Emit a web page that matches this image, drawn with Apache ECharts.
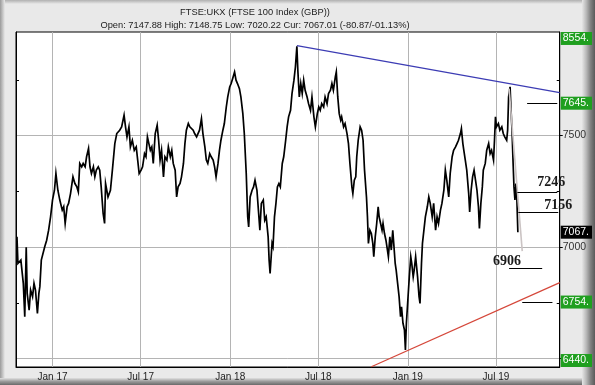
<!DOCTYPE html>
<html><head><meta charset="utf-8">
<script src="https://cdn.jsdelivr.net/npm/echarts@6/dist/echarts.min.js"></script>
<style>html,body{margin:0;padding:0;background:#e9e9e9}#c{width:595px;height:385px}</style>
</head><body><div id="c"></div>
<script>
// ---------- data ----------
const dates = [
'2016-10-20','2016-10-22','2016-10-28','2016-11-02','2016-11-05','2016-11-08','2016-11-10','2016-11-14','2016-11-17','2016-11-21',
'2016-11-24','2016-11-27','2016-12-01','2016-12-04','2016-12-06','2016-12-09','2016-12-13','2016-12-16','2016-12-20','2016-12-24',
'2016-12-28','2017-01-01','2017-01-05','2017-01-08','2017-01-12','2017-01-16','2017-01-21','2017-01-24','2017-01-27','2017-01-31',
'2017-02-03','2017-02-07','2017-02-12','2017-02-16','2017-02-20','2017-02-23','2017-02-26','2017-03-02','2017-03-05','2017-03-09',
'2017-03-12','2017-03-16','2017-03-19','2017-03-22','2017-03-26','2017-03-29','2017-04-01','2017-04-05','2017-04-08','2017-04-11',
'2017-04-15','2017-04-18','2017-04-20','2017-04-25','2017-04-30','2017-05-04','2017-05-09','2017-05-13','2017-05-19','2017-05-23',
'2017-05-28','2017-05-31','2017-06-03','2017-06-07','2017-06-10','2017-06-14','2017-06-18','2017-06-22','2017-06-25','2017-06-28',
'2017-07-02','2017-07-05','2017-07-09','2017-07-12','2017-07-15','2017-07-18','2017-07-21','2017-07-24','2017-07-27','2017-07-31',
'2017-08-04','2017-08-07','2017-08-10','2017-08-13','2017-08-17','2017-08-20','2017-08-24','2017-08-27','2017-08-31','2017-09-03',
'2017-09-06','2017-09-10','2017-09-13','2017-09-16','2017-09-20','2017-09-23','2017-09-27','2017-09-30','2017-10-03','2017-10-07',
'2017-10-10','2017-10-13','2017-10-17','2017-10-20','2017-10-24','2017-10-27','2017-10-30','2017-11-03','2017-11-06','2017-11-10',
'2017-11-13','2017-11-16','2017-11-20','2017-11-23','2017-11-27','2017-11-30','2017-12-03','2017-12-07','2017-12-10','2017-12-13',
'2017-12-17','2017-12-20','2017-12-24','2017-12-27','2017-12-31','2018-01-03','2018-01-06','2018-01-10','2018-01-13','2018-01-16',
'2018-01-20','2018-01-23','2018-01-27','2018-01-30','2018-02-03','2018-02-06','2018-02-08','2018-02-11','2018-02-15','2018-02-18',
'2018-02-21','2018-02-25','2018-02-28','2018-03-03','2018-03-06','2018-03-10','2018-03-13','2018-03-16','2018-03-20','2018-03-22',
'2018-03-24','2018-03-28','2018-03-30','2018-04-02','2018-04-05','2018-04-08','2018-04-11','2018-04-14','2018-04-18','2018-04-21',
'2018-04-25','2018-04-28','2018-05-01','2018-05-05','2018-05-08','2018-05-12','2018-05-15','2018-05-18','2018-05-20','2018-05-23',
'2018-05-26','2018-05-29','2018-06-01','2018-06-04','2018-06-08','2018-06-11','2018-06-15','2018-06-18','2018-06-22','2018-06-25',
'2018-06-29','2018-07-02','2018-07-05','2018-07-08','2018-07-12','2018-07-15','2018-07-19','2018-07-22','2018-07-26','2018-07-29',
'2018-08-01','2018-08-05','2018-08-07','2018-08-10','2018-08-13','2018-08-16','2018-08-18','2018-08-22','2018-08-25','2018-08-29',
'2018-09-01','2018-09-04','2018-09-08','2018-09-10','2018-09-13','2018-09-16','2018-09-18','2018-09-21','2018-09-25','2018-09-28',
'2018-10-01','2018-10-04','2018-10-08','2018-10-10','2018-10-12','2018-10-15','2018-10-18','2018-10-21','2018-10-23','2018-10-26',
'2018-10-29','2018-11-01','2018-11-03','2018-11-06','2018-11-09','2018-11-11','2018-11-14','2018-11-17','2018-11-19','2018-11-22',
'2018-11-25','2018-11-28','2018-12-01','2018-12-03','2018-12-06','2018-12-08','2018-12-11','2018-12-14','2018-12-17','2018-12-19',
'2018-12-22','2018-12-25','2018-12-27','2018-12-29','2019-01-01','2019-01-04','2019-01-07','2019-01-09','2019-01-12','2019-01-14',
'2019-01-17','2019-01-21','2019-01-24','2019-01-26','2019-01-29','2019-01-31','2019-02-03','2019-02-06','2019-02-10','2019-02-13',
'2019-02-16','2019-02-20','2019-02-23','2019-02-27','2019-03-02','2019-03-05','2019-03-09','2019-03-12','2019-03-16','2019-03-19',
'2019-03-22','2019-03-26','2019-03-29','2019-04-02','2019-04-05','2019-04-09','2019-04-12','2019-04-15','2019-04-19','2019-04-21',
'2019-04-24','2019-04-26','2019-04-29','2019-05-02','2019-05-06','2019-05-08','2019-05-11','2019-05-14','2019-05-17','2019-05-20',
'2019-05-23','2019-05-26','2019-05-28','2019-05-31','2019-06-03','2019-06-05','2019-06-09','2019-06-12','2019-06-16','2019-06-19',
'2019-06-22','2019-06-26','2019-06-28','2019-06-30','2019-07-02','2019-07-06','2019-07-09','2019-07-13','2019-07-16','2019-07-19',
'2019-07-23','2019-07-25','2019-07-27','2019-07-30','2019-08-01','2019-08-03','2019-08-05','2019-08-07','2019-08-09','2019-08-11',
'2019-08-13','2019-08-15'
];
const closes = [
7047,6927,6942,6838,6688,7000,6793,6718,6808,6778,
6838,6808,6703,6793,6823,6942,6942,7002,7031,7076,
7136,7211,7255,7330,7255,7211,7166,7181,7106,7181,
7196,7240,7315,7285,7270,7248,7375,7360,7375,7360,
7405,7442,7360,7330,7360,7315,7345,7360,7345,7270,
7151,7106,7285,7225,7255,7345,7464,7509,7524,7539,
7591,7539,7494,7539,7449,7479,7434,7449,7390,7330,
7345,7360,7419,7405,7494,7464,7434,7449,7375,7509,
7546,7479,7390,7434,7315,7405,7390,7449,7405,7434,
7375,7345,7225,7270,7285,7315,7375,7464,7524,7554,
7539,7531,7524,7509,7494,7502,7524,7576,7509,7449,
7390,7375,7419,7405,7390,7360,7315,7375,7434,7479,
7524,7554,7628,7673,7718,7733,7755,7785,7748,7733,
7710,7673,7598,7509,7330,7136,7091,7225,7255,7270,
7300,7255,7166,7076,7196,7211,7121,7136,7046,6942,
6882,7017,7002,7136,7196,7270,7285,7270,7375,7405,
7479,7539,7584,7613,7688,7748,7807,7900,7792,7673,
7733,7688,7748,7703,7673,7643,7613,7673,7584,7539,
7598,7628,7613,7643,7628,7673,7643,7688,7703,7733,
7703,7763,7785,7673,7598,7569,7584,7539,7554,7509,
7464,7375,7270,7240,7300,7315,7405,7479,7539,7524,
7479,7345,7225,7136,7017,7076,7061,7017,6957,7046,
7106,7181,7136,7106,7076,7106,7061,7031,7002,6957,
7046,6987,7076,7017,6927,6897,6838,6778,6688,6733,
6659,6629,6539,6659,6763,6867,6957,6927,6867,6897,
6957,6867,6778,6748,6927,7017,7076,7136,7181,7225,
7196,7136,7196,7076,7136,7106,7166,7196,7255,7345,
7300,7225,7330,7405,7434,7449,7464,7479,7509,7531,
7464,7434,7390,7345,7240,7158,7255,7315,7345,7300,
7255,7181,7084,7196,7270,7345,7375,7434,7464,7419,
7434,7390,7479,7584,7539,7554,7524,7539,7509,7494,
7479,7524,7673,7718,7613,7524,7390,7270,7211,7285,
7211,7067
];
const xTickDates = ['2017-01-01','2017-07-01','2018-01-01','2018-07-01','2019-01-01','2019-07-01'];
const yGridValues = [6500, 7000, 7500];
const yMinorValues = [6750, 7250, 7750];
const yPlainLabels = [7000, 7500];
const greenLevels = [8554, 7645, 6754, 6440];
const currentLevel = 7067;
const blueTrend = [['2018-05-18', 7903], ['2019-11-09', 7692]];
const redTrend = [['2018-10-18', 6464], ['2019-11-09', 6841]];
const greyDrop = [['2019-07-28', 7710], ['2019-08-24', 6982]];
const targetLevels = [7645, 7246, 7156, 6906, 6754];
const targetSpans = [['2019-09-03','2019-11-04'],['2019-08-14','2019-11-04'],['2019-08-16','2019-11-06'],['2019-07-28','2019-10-04'],['2019-08-24','2019-10-25']];
const labelledTargets = [7246, 7156, 6906];
const titleLine1 = 'FTSE:UKX (FTSE 100 Index (GBP))';
const titleLine2 = 'Open: 7147.88 High: 7148.75 Low: 7020.22 Cur: 7067.01 (-80.87/-01.13%)';
const monthNames = ['Jan','Feb','Mar','Apr','May','Jun','Jul','Aug','Sep','Oct','Nov','Dec'];

// ---------- chart ----------
const yMin = 6463, yMax = 7964;
const xMin = '2016-10-18', xMax = '2019-11-09';
const ts = s => { const p = s.split('-').map(Number); return new Date(p[0], p[1]-1, p[2]).getTime(); };
const pt = p => [ts(p[0]), p[1]];
const inset = 29;
const boxes = greenLevels.map(v => ({v, pos: Math.min(Math.max(v, yMin + inset), yMax - inset), s: 'g'}));
boxes.push({v: currentLevel, pos: currentLevel, s: 'k'});
const yLabelValues = yPlainLabels.concat(boxes.map(b => b.pos));
const xTicks = xTickDates.map(ts);

const chart = echarts.init(document.getElementById('c'), null, {renderer: 'canvas'});
const FONT = '"Liberation Sans", Arial, sans-serif';

const labelOffsets = {7246: {position: 'insideEndTop', offset: [13, 2]}, 7156: {position: 'insideEndTop', offset: [19, 5]}, 6906: {position: 'insideStartTop', offset: [-21, 5]}};
const markData = [];
markData.push([{coord: pt(blueTrend[0]), lineStyle: {color: '#3c3cb4', width: 1.2}}, {coord: pt(blueTrend[1])}]);
markData.push([{coord: pt(redTrend[0]), lineStyle: {color: '#d5473a', width: 1.2}}, {coord: pt(redTrend[1])}]);
markData.push([{coord: pt(greyDrop[0]), lineStyle: {color: '#cbc4c4', width: 1.6}}, {coord: pt(greyDrop[1])}]);
targetLevels.forEach((v, i) => {
  const start = {coord: [ts(targetSpans[i][0]), v], lineStyle: {color: '#000', width: 1}};
  if (labelledTargets.includes(v)) {
    const o = labelOffsets[v];
    start.label = {show: true, position: o.position, offset: o.offset, distance: 5, formatter: String(v),
      fontFamily: '"Liberation Serif", serif', fontWeight: 'bold', fontSize: 14, color: '#1a1a1a'};
  }
  markData.push([start, {coord: [ts(targetSpans[i][1]), v]}]);
});

const grad = (x1,y1,x2,y2,stops) => new echarts.graphic.LinearGradient(x1,y1,x2,y2,stops.map((c,i)=>({offset:i/(stops.length-1),color:c})));

chart.setOption({
  backgroundColor: '#e9e9e9',
  animation: false,
  grid: {left: 16, right: 30, top: 32, bottom: 18, show: true, backgroundColor: '#fff', borderColor: '#000', borderWidth: 1, containLabel: false},
  xAxis: {
    type: 'value', min: ts(xMin), max: ts(xMax), scale: true,
    axisLine: {show: true, onZero: false, lineStyle: {color: '#000', width: 1}},
    axisTick: {show: false, customValues: xTicks},
    splitLine: {show: true, lineStyle: {color: '#b4b4b4', width: 1}},
    axisLabel: {customValues: xTicks, margin: 5, fontFamily: FONT, fontSize: 10, color: '#222',
      formatter: v => { const d = new Date(v); return monthNames[d.getMonth()] + ' ' + String(d.getFullYear()).slice(2); }}
  },
  yAxis: [
    {type: 'value', position: 'right', min: yMin, max: yMax,
      axisLine: {show: true, lineStyle: {color: '#000'}},
      axisTick: {show: true, inside: false, length: 3, customValues: yGridValues, lineStyle: {color: '#000'}},
      splitLine: {show: true, lineStyle: {color: '#b4b4b4', width: 1}},
      axisLabel: {customValues: yLabelValues, margin: 1, fontFamily: FONT, fontSize: 10.5,
        formatter: val => { const b = boxes.find(b => Math.abs(b.pos - val) < 0.01); return b ? '{' + b.s + '|' + b.v + '.}' : '{p|' + val + '}'; },
        rich: {
          g: {backgroundColor: '#1f9f1f', color: '#fff', fontFamily: FONT, fontSize: 10.5, padding: [1, 3, 1, 2], lineHeight: 11},
          k: {backgroundColor: '#000', color: '#fff', fontFamily: FONT, fontSize: 10.5, padding: [1, 3, 1, 2], lineHeight: 11},
          p: {color: '#333', fontFamily: FONT, fontSize: 10.5, padding: [0, 0, 0, 2]}
        }}},
    {type: 'value', position: 'right', min: yMin, max: yMax,
      axisLine: {show: false}, splitLine: {show: false}, axisLabel: {show: false},
      axisTick: {show: true, inside: true, length: 3, customValues: yMinorValues, lineStyle: {color: '#000'}}},
    {type: 'value', position: 'left', min: yMin, max: yMax,
      axisLine: {show: true, lineStyle: {color: '#000'}}, splitLine: {show: false}, axisLabel: {show: false},
      axisTick: {show: true, inside: true, length: 3, customValues: yMinorValues, lineStyle: {color: '#000'}}}
  ],
  series: [
    {type: 'line', name: 'FTSE 100', data: dates.map((d, i) => [ts(d), closes[i]]), yAxisIndex: 0,
      showSymbol: false, symbol: 'none', lineStyle: {color: '#000', width: 1.7, join: 'miter'}, z: 3},
    {type: 'line', name: 'annotations', data: [], yAxisIndex: 0, clip: false, z: 4,
      markLine: {silent: true, symbol: ['none', 'none'], animation: false, label: {show: false},
        lineStyle: {type: 'solid', color: '#000', width: 1}, data: markData}}
  ],
  graphic: [
    {type: 'rect', z: -10, shape: {x: 0, y: 0, width: 595, height: 4}, style: {fill: grad(0,0,0,1,['#b0b0b0','#e9e9e9'])}},
    {type: 'rect', z: -10, shape: {x: 0, y: 0, width: 5, height: 385}, style: {fill: grad(0,0,1,0,['#9a9a9a','#e9e9e9'])}},
    {type: 'rect', z: -10, shape: {x: 0, y: 378, width: 595, height: 7}, style: {fill: grad(0,0,0,1,['#e0e0e0','#9a9a9a','#6a6a6a'])}},
    {type: 'rect', z: -10, shape: {x: 582, y: 0, width: 13, height: 385}, style: {fill: grad(0,0,1,0,['#e6e6e6','#b8b8b8','#808080','#5a5a5a'])}},
    {type: 'text', x: 255, y: 12, style: {text: titleLine1, font: '9.3px "Liberation Sans", Arial, sans-serif', fill: '#222', align: 'center', verticalAlign: 'middle'}},
    {type: 'text', x: 255, y: 25, style: {text: titleLine2, font: '9.3px "Liberation Sans", Arial, sans-serif', fill: '#222', align: 'center', verticalAlign: 'middle'}}
  ]
});
</script>
</body></html>
